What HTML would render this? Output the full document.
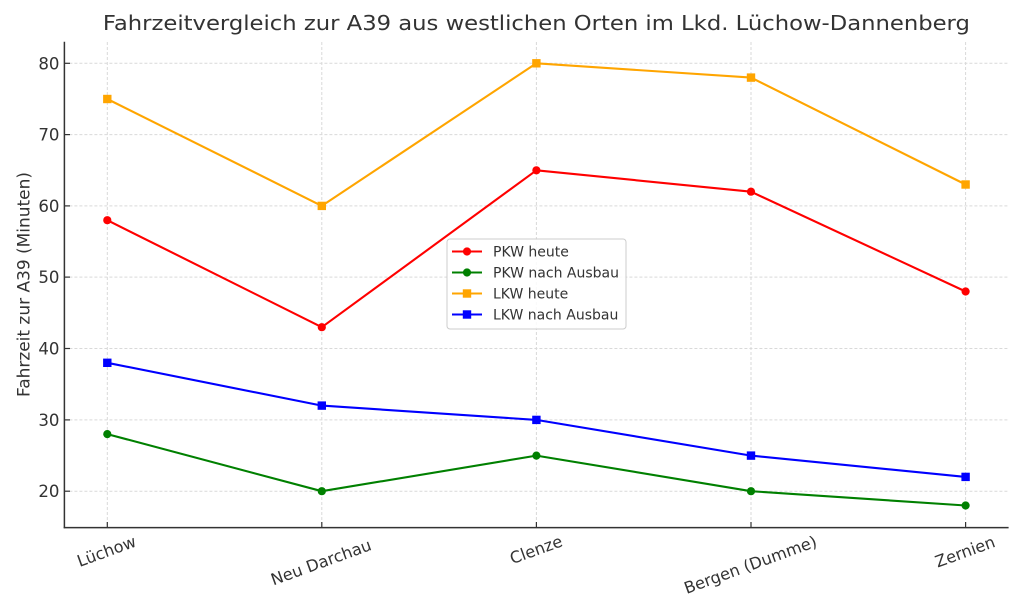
<!DOCTYPE html>
<html>
<head>
<meta charset="utf-8">
<style>
html,body{margin:0;padding:0;background:#fff;}
svg{display:block;}
text{font-family:"DejaVu Sans","Liberation Sans",sans-serif;fill:#333;}
</style>
</head>
<body>
<svg width="1024" height="614" viewBox="0 0 1024 614" xmlns="http://www.w3.org/2000/svg">
<rect width="1024" height="614" fill="#fff"/>
<!-- grid -->
<g stroke="#d9d9d9" stroke-width="1" stroke-dasharray="3,2" fill="none">
<line x1="64.4" x2="1008.6" y1="63.3" y2="63.3"/>
<line x1="64.4" x2="1008.6" y1="134.6" y2="134.6"/>
<line x1="64.4" x2="1008.6" y1="205.9" y2="205.9"/>
<line x1="64.4" x2="1008.6" y1="277.1" y2="277.1"/>
<line x1="64.4" x2="1008.6" y1="348.5" y2="348.5"/>
<line x1="64.4" x2="1008.6" y1="419.9" y2="419.9"/>
<line x1="64.4" x2="1008.6" y1="491.2" y2="491.2"/>
<line x1="107.3" x2="107.3" y1="42" y2="527.6"/>
<line x1="321.8" x2="321.8" y1="42" y2="527.6"/>
<line x1="536.4" x2="536.4" y1="42" y2="527.6"/>
<line x1="751" x2="751" y1="42" y2="527.6"/>
<line x1="965.6" x2="965.6" y1="42" y2="527.6"/>
</g>
<!-- series -->
<g fill="none" stroke-width="2.1" stroke-linejoin="round">
<polyline stroke="#ff0000" points="107.3,220.2 321.8,327.2 536.4,170.3 751,191.7 965.6,291.5"/>
<polyline stroke="#008000" points="107.3,434.1 321.8,491.2 536.4,455.6 751,491.2 965.6,505.5"/>
<polyline stroke="#ffa500" points="107.3,99.0 321.8,205.9 536.4,63.3 751,77.6 965.6,184.5"/>
<polyline stroke="#0000ff" points="107.3,362.8 321.8,405.6 536.4,419.9 751,455.6 965.6,476.9"/>
</g>
<g fill="#ff0000">
<circle cx="107.3" cy="220.2" r="4.1"/><circle cx="321.8" cy="327.2" r="4.1"/><circle cx="536.4" cy="170.3" r="4.1"/><circle cx="751" cy="191.7" r="4.1"/><circle cx="965.6" cy="291.5" r="4.1"/>
</g>
<g fill="#008000">
<circle cx="107.3" cy="434.1" r="4.1"/><circle cx="321.8" cy="491.2" r="4.1"/><circle cx="536.4" cy="455.6" r="4.1"/><circle cx="751" cy="491.2" r="4.1"/><circle cx="965.6" cy="505.5" r="4.1"/>
</g>
<g fill="#ffa500">
<rect x="103.1" y="94.8" width="8.4" height="8.4"/><rect x="317.6" y="201.7" width="8.4" height="8.4"/><rect x="532.2" y="59.1" width="8.4" height="8.4"/><rect x="746.8" y="73.4" width="8.4" height="8.4"/><rect x="961.4" y="180.3" width="8.4" height="8.4"/>
</g>
<g fill="#0000ff">
<rect x="103.1" y="358.6" width="8.4" height="8.4"/><rect x="317.6" y="401.4" width="8.4" height="8.4"/><rect x="532.2" y="415.7" width="8.4" height="8.4"/><rect x="746.8" y="451.4" width="8.4" height="8.4"/><rect x="961.4" y="472.7" width="8.4" height="8.4"/>
</g>
<!-- spines -->
<g stroke="#333" stroke-width="1.5" fill="none">
<line x1="64.4" y1="41.7" x2="64.4" y2="528.3"/>
<line x1="63.7" y1="527.6" x2="1008.6" y2="527.6"/>
</g>
<!-- ticks (inward) -->
<g stroke="#333" stroke-width="1.2">
<line x1="64.4" x2="70" y1="63.3" y2="63.3"/>
<line x1="64.4" x2="70" y1="134.6" y2="134.6"/>
<line x1="64.4" x2="70" y1="205.9" y2="205.9"/>
<line x1="64.4" x2="70" y1="277.1" y2="277.1"/>
<line x1="64.4" x2="70" y1="348.5" y2="348.5"/>
<line x1="64.4" x2="70" y1="419.9" y2="419.9"/>
<line x1="64.4" x2="70" y1="491.2" y2="491.2"/>
<line x1="107.3" x2="107.3" y1="522" y2="527.6"/>
<line x1="321.8" x2="321.8" y1="522" y2="527.6"/>
<line x1="536.4" x2="536.4" y1="522" y2="527.6"/>
<line x1="751" x2="751" y1="522" y2="527.6"/>
<line x1="965.6" x2="965.6" y1="522" y2="527.6"/>
</g>
<!-- y tick labels -->
<g font-size="16.6" text-anchor="end">
<text x="59.5" y="69.3">80</text>
<text x="59.5" y="140.6">70</text>
<text x="59.5" y="211.9">60</text>
<text x="59.5" y="283.1">50</text>
<text x="59.5" y="354.5">40</text>
<text x="59.5" y="425.9">30</text>
<text x="59.5" y="497.2">20</text>
</g>
<!-- x tick labels -->
<g font-size="16.2" text-anchor="middle">
<text x="106.5" y="551" dy="0.36em" transform="rotate(-20 106.5 551)">Lüchow</text>
<text x="321" y="562" dy="0.36em" transform="rotate(-20 321 562)">Neu Darchau</text>
<text x="536" y="549.5" dy="0.36em" transform="rotate(-20 536 549.5)">Clenze</text>
<text x="750.5" y="565" dy="0.33em" transform="rotate(-20 750.5 565)">Bergen (Dumme)</text>
<text x="965" y="551.5" dy="0.36em" transform="rotate(-20 965 551.5)">Zernien</text>
</g>
<!-- y label -->
<text x="284.5" y="29.5" font-size="16.6" text-anchor="middle" transform="rotate(-90 284.5 29.5) translate(0 0)" textLength="225" lengthAdjust="spacingAndGlyphs" style="display:none">x</text>
<text font-size="16.6" text-anchor="middle" transform="translate(29.5 284.5) rotate(-90)" textLength="225" lengthAdjust="spacingAndGlyphs">Fahrzeit zur A39 (Minuten)</text>
<!-- title -->
<text x="536.4" y="30" font-size="20.7" text-anchor="middle" textLength="867" lengthAdjust="spacingAndGlyphs">Fahrzeitvergleich zur A39 aus westlichen Orten im Lkd. Lüchow-Dannenberg</text>
<!-- legend -->
<rect x="447" y="239" width="179" height="90" rx="3" ry="3" fill="#fff" fill-opacity="0.85" stroke="#cccccc" stroke-width="1"/>
<g stroke-width="2.1">
<line x1="452" x2="482" y1="251.5" y2="251.5" stroke="#ff0000"/>
<line x1="452" x2="482" y1="272.5" y2="272.5" stroke="#008000"/>
<line x1="452" x2="482" y1="293.5" y2="293.5" stroke="#ffa500"/>
<line x1="452" x2="482" y1="314.5" y2="314.5" stroke="#0000ff"/>
</g>
<circle cx="467" cy="251.5" r="4.1" fill="#ff0000"/>
<circle cx="467" cy="272.5" r="4.1" fill="#008000"/>
<rect x="462.8" y="289.3" width="8.4" height="8.4" fill="#ffa500"/>
<rect x="462.8" y="310.3" width="8.4" height="8.4" fill="#0000ff"/>
<g font-size="14">
<text x="493" y="256.7">PKW heute</text>
<text x="493" y="277.7">PKW nach Ausbau</text>
<text x="493" y="298.5">LKW heute</text>
<text x="493" y="319.4">LKW nach Ausbau</text>
</g>
</svg>
</body>
</html>
